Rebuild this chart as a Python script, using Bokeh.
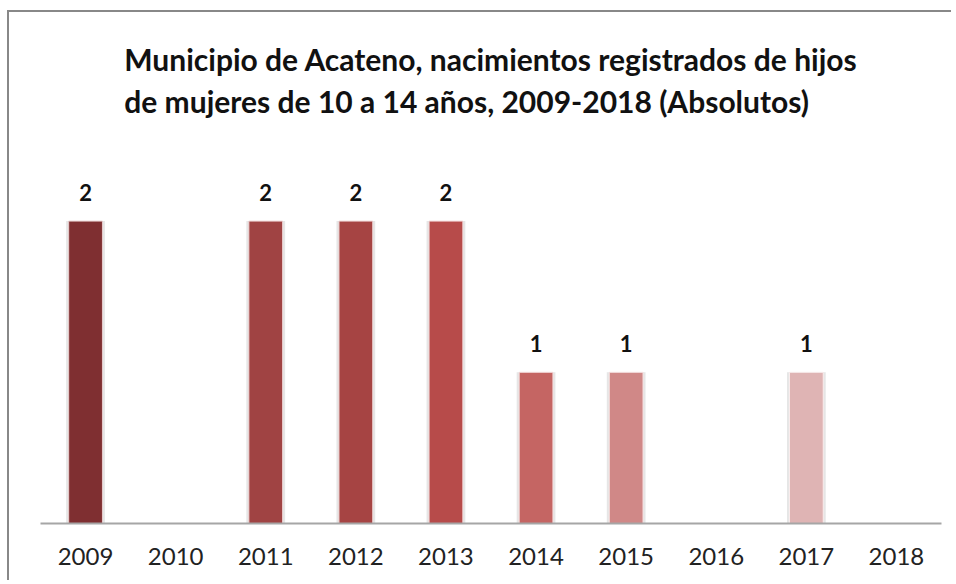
from bokeh.plotting import figure
from bokeh.models import ColumnDataSource, Range1d, Title
from bokeh.embed import file_html
from bokeh.resources import INLINE
from bokeh.core.properties import value

years = ["2009", "2010", "2011", "2012", "2013", "2014", "2015", "2016", "2017", "2018"]
counts = [2, 0, 2, 2, 2, 1, 1, 0, 1, 0]
colors = ["#7F2F31", "#FFFFFF", "#A04343", "#A64443", "#B74B4A",
          "#C56563", "#D08887", "#FFFFFF", "#DFB4B4", "#FFFFFF"]
edges = ["#E8CFCF", "#FFFFFF", "#EFD5D5", "#EFD5D5", "#F3D8D8",
         "#F5DCDC", "#F7E4E4", "#FFFFFF", "#FAEEEE", "#FFFFFF"]
title_lines = ["Municipio de Acateno, nacimientos registrados de hijos",
               "de mujeres de 10 a 14 años, 2009-2018 (Absolutos)"]

shown = [i for i, c in enumerate(counts) if c > 0]
src = ColumnDataSource(dict(
    x=[years[i] for i in shown],
    y=[counts[i] for i in shown],
    color=[colors[i] for i in shown],
    edge=[edges[i] for i in shown],
    label=[str(counts[i]) for i in shown],
))

p = figure(x_range=years, y_range=Range1d(0, 2.5), width=944, height=570,
           output_backend="svg", toolbar_location=None,
           min_border_left=31, min_border_right=12, min_border_top=133,
           min_border_bottom=59)
p.styles = {"margin-left": "7px", "margin-top": "10px",
            "border-left": "2px solid #888888", "border-top": "2px solid #888888"}

p.title = Title(text="\n".join(title_lines),
                align="center", text_font="Lato", text_font_size="30px",
                text_font_style="bold", text_color="#111111", standoff=52,
                text_line_height=1.18)

p.vbar(x="x", top="y", width=0.43, source=src, fill_color="#E6E6E6", line_color=None)
p.vbar(x="x", top="y", width=0.375, source=src, fill_color="color", line_color="edge", line_width=1)
p.text(x="x", y="y", text="label", source=src, text_align="center", text_baseline="bottom",
       y_offset=-20, text_font=value("Lato"), text_font_size="22px", text_font_style="bold",
       text_color="#111111")

p.xgrid.grid_line_color = None
p.ygrid.grid_line_color = None
p.outline_line_color = None
p.yaxis.visible = False
p.xaxis.axis_line_color = "#A6A6A6"
p.xaxis.axis_line_width = 2
p.xaxis.major_tick_line_color = None
p.xaxis.minor_tick_line_color = None
p.xaxis.major_label_text_font = "Lato"
p.xaxis.major_label_text_font_size = "24px"
p.xaxis.major_label_text_color = "#222222"
p.xaxis.major_label_standoff = 18
p.x_range.range_padding = 0

open("out.html", "w").write(file_html(p, INLINE))
